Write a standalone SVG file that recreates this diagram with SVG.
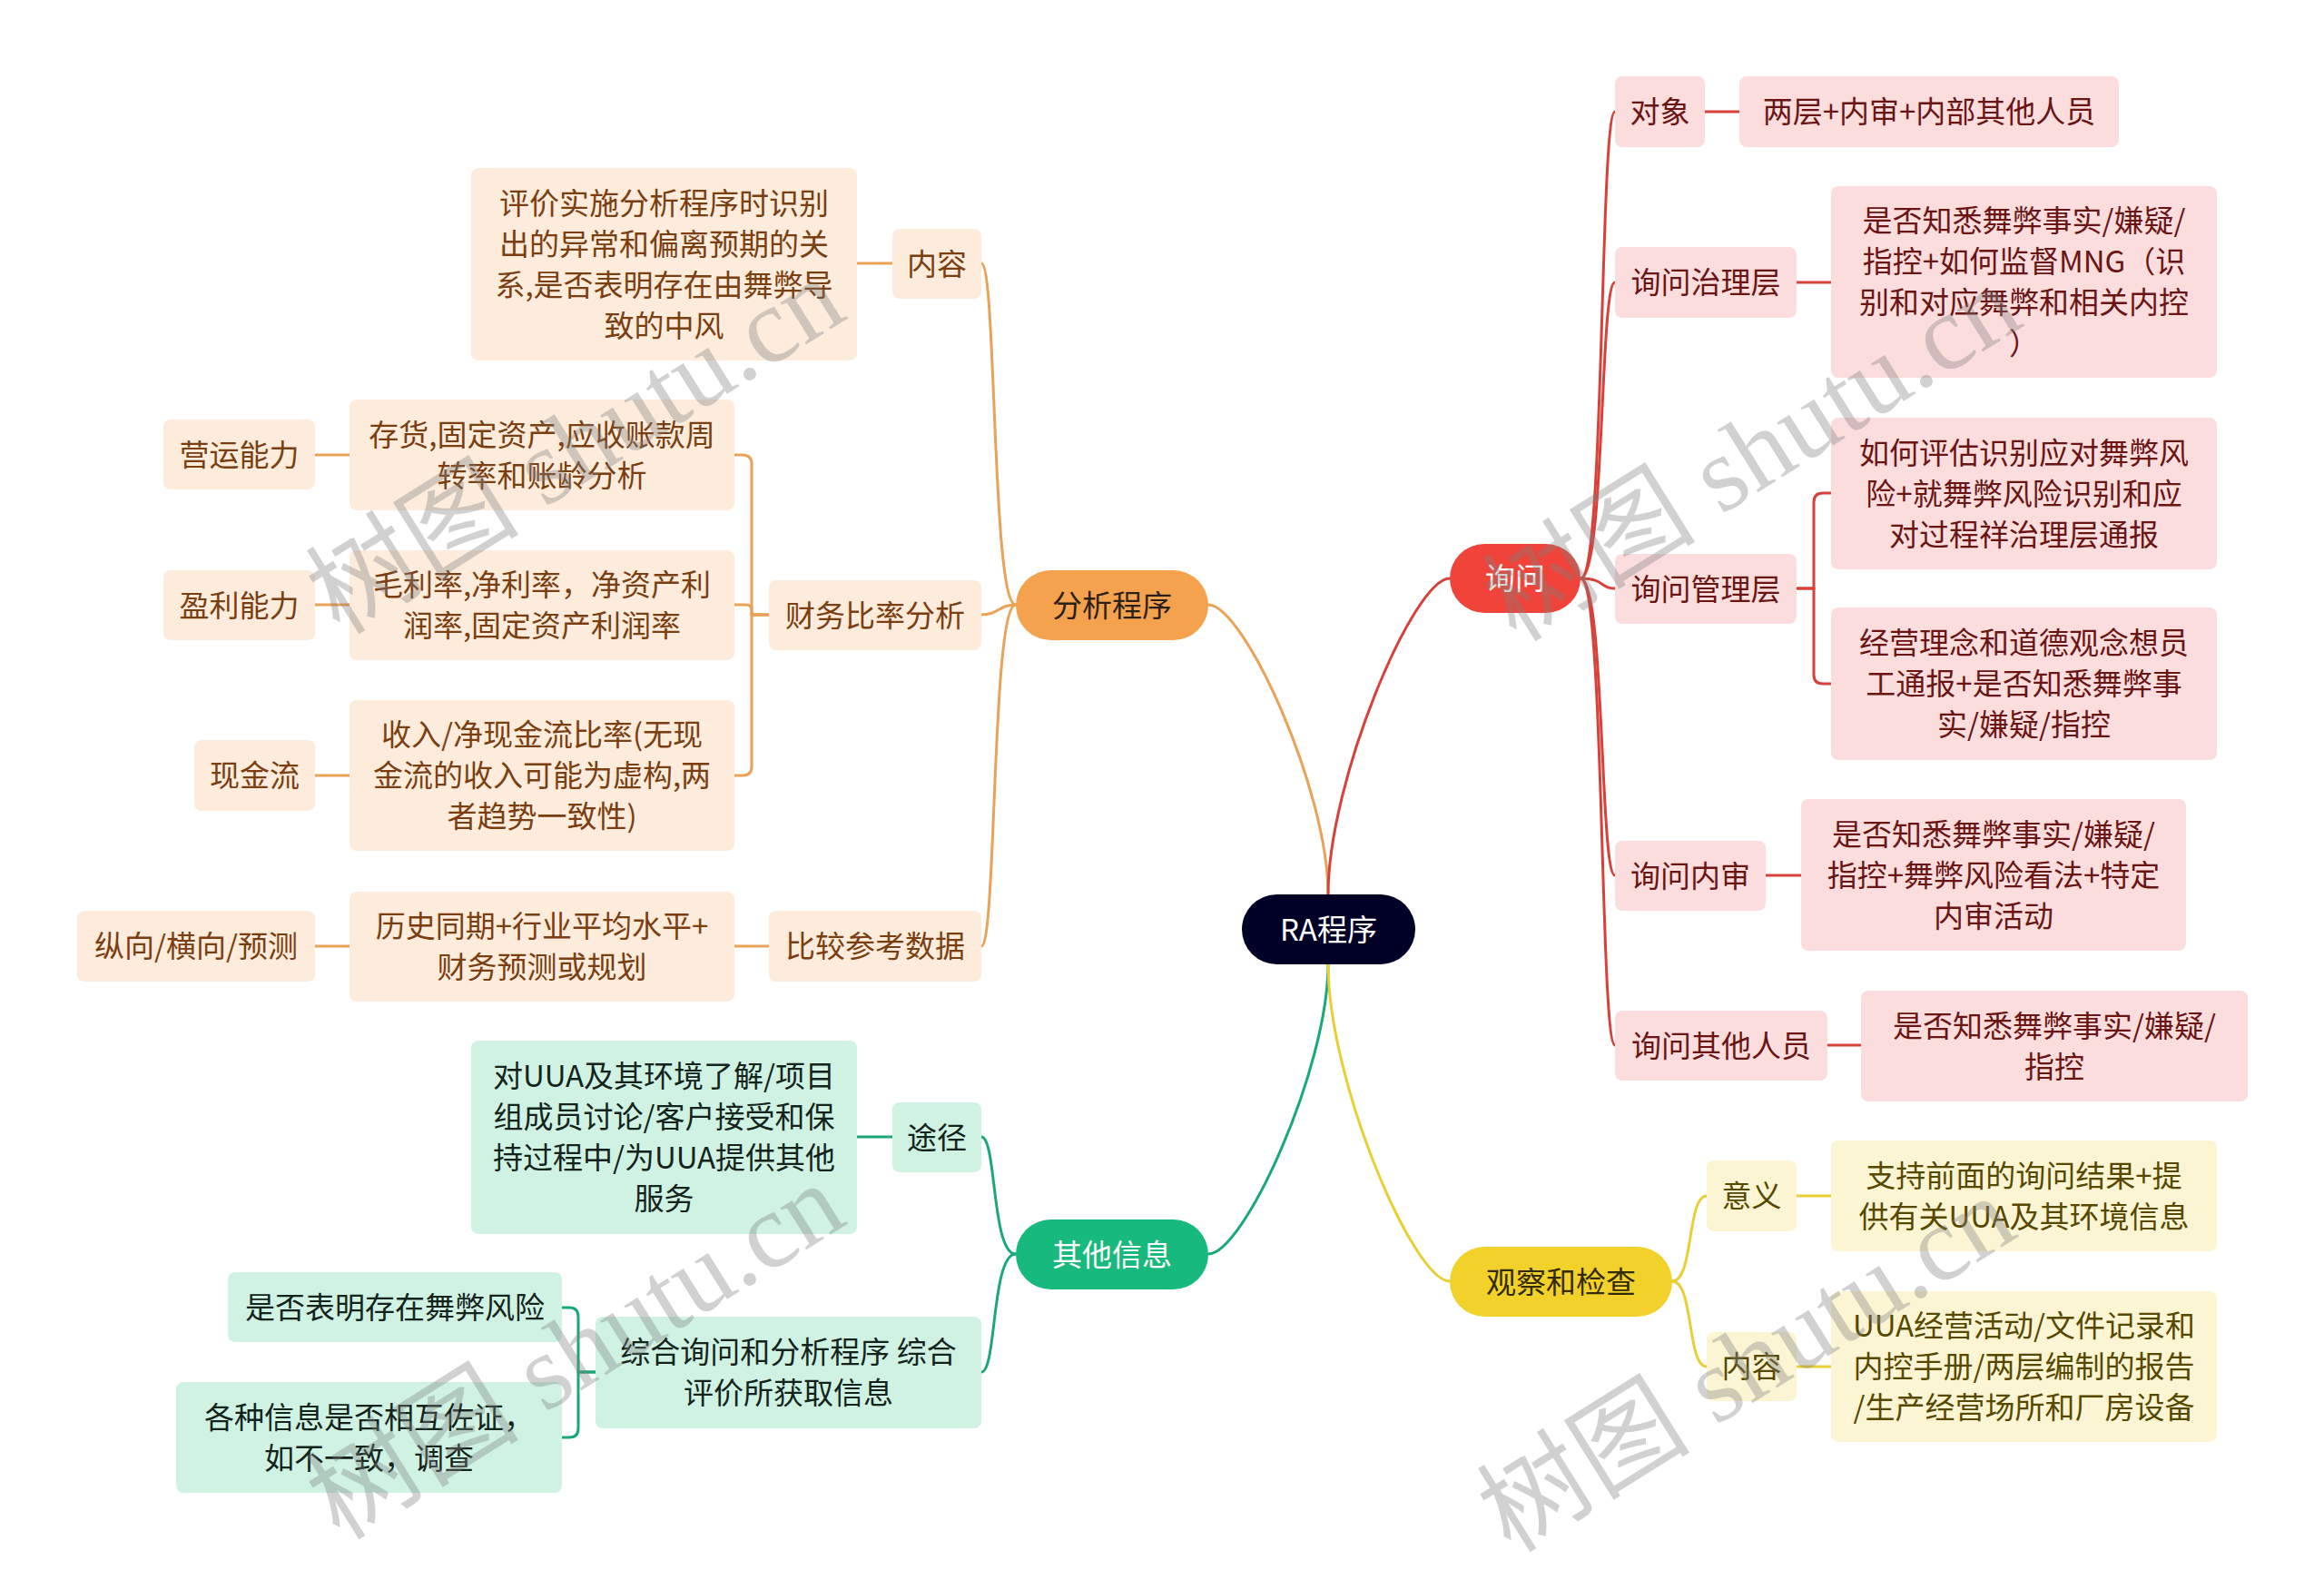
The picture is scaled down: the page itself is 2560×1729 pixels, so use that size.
<svg xmlns="http://www.w3.org/2000/svg" width="2560" height="1729" viewBox="0 0 2560 1729">
<style>
.t{font-family:"Noto Sans CJK SC","Noto Sans",sans-serif;font-size:33px;text-anchor:middle}
.c{fill:none;stroke-width:3;stroke-linecap:round}
.co{stroke:#E9A256}.cr{stroke:#D8413A}.cg{stroke:#1BA879}.cy{stroke:#E9CF35}
.root{fill:#000026}.roott{fill:#FFFFFF}
.om{fill:#F4A24E}.omt{fill:#2B2118}
.os{fill:#FDECDC}.ost{fill:#7A3E10}
.rm{fill:#F0443A}.rmt{fill:#FFFFFF}
.rs{fill:#FCDDDD}.rst{fill:#6A1414}
.gm{fill:#18B97C}.gmt{fill:#FFFFFF}
.gs{fill:#CFF2E3}.gst{fill:#14241C}
.ym{fill:#F2D22A}.ymt{fill:#332B00}
.ys{fill:#FCF5D3}.yst{fill:#574800}
.wm{font-family:"Liberation Serif","Noto Sans CJK SC",serif;font-size:118px;fill:#7f7f7f;fill-opacity:0.36;text-anchor:middle}
</style>
<rect width="2560" height="1729" fill="#FFFFFF"/>
<g id="connectors">
<path class="c co" d="M1463,985 C1463,870 1370,666 1331,666"/>
<path class="c cr" d="M1463,985 C1463,860 1557,637 1597,637"/>
<path class="c cg" d="M1463,1062 C1463,1177 1370,1381 1331,1381"/>
<path class="c cy" d="M1463,1062 C1463,1190 1557,1411 1597,1411"/>
<path class="c co" d="M1119,666 C1092,666 1098,290 1081,290"/>
<path class="c co" d="M1119,666 C1100,666 1100,677 1081,677"/>
<path class="c co" d="M1119,666 C1092,666 1098,1042 1081,1042"/>
<path class="c co" d="M944,290 H983"/>
<path class="c co" d="M847,677 H828 V511 Q828,501 818,501 H809"/>
<path class="c co" d="M847,677 H828 V672 Q828,666 822,666 H809"/>
<path class="c co" d="M847,677 H828 V844 Q828,854 818,854 H809"/>
<path class="c co" d="M347,501 H385"/>
<path class="c co" d="M347,666 H385"/>
<path class="c co" d="M347,854 H385"/>
<path class="c co" d="M809,1042 H847"/>
<path class="c co" d="M347,1042 H385"/>
<path class="c cg" d="M1119,1381 C1092,1381 1098,1252 1081,1252"/>
<path class="c cg" d="M1119,1381 C1092,1381 1098,1511 1081,1511"/>
<path class="c cg" d="M944,1252 H983"/>
<path class="c cg" d="M656,1511 H637 V1450 Q637,1440 627,1440 H619"/>
<path class="c cg" d="M656,1511 H637 V1573 Q637,1583 627,1583 H619"/>
<path class="c cr" d="M1741,637 C1768,637 1762,123 1779,123"/>
<path class="c cr" d="M1741,637 C1768,637 1762,311 1779,311"/>
<path class="c cr" d="M1741,637 C1768,637 1762,648 1779,648"/>
<path class="c cr" d="M1741,637 C1768,637 1762,964 1779,964"/>
<path class="c cr" d="M1741,637 C1768,637 1762,1151 1779,1151"/>
<path class="c cr" d="M1878,123 H1916"/>
<path class="c cr" d="M1979,311 H2017"/>
<path class="c cr" d="M1979,648 H1998 V553 Q1998,543 2008,543 H2017"/>
<path class="c cr" d="M1979,648 H1998 V743 Q1998,753 2008,753 H2017"/>
<path class="c cr" d="M1945,964 H1984"/>
<path class="c cr" d="M2013,1151 H2050"/>
<path class="c cy" d="M1842,1411 C1866,1411 1858,1317 1880,1317"/>
<path class="c cy" d="M1842,1411 C1866,1411 1858,1505 1880,1505"/>
<path class="c cy" d="M1979,1317 H2017"/>
<path class="c cy" d="M1979,1505 H2017"/>
</g>
<g id="root"><rect class="root" x="1368" y="985" width="191" height="77" rx="38.5"/><text class="t roott" x="1463.5" y="1035.5" font-size="34">RA程序</text></g>
<g id="fenxi"><rect class="om" x="1119" y="628" width="212" height="77" rx="38.5"/><text class="t omt" x="1225" y="678.5">分析程序</text></g>
<g id="xunwen"><rect class="rm" x="1597" y="599" width="144" height="76" rx="38"/><text class="t rmt" x="1669" y="649">询问</text></g>
<g id="qita"><rect class="gm" x="1119" y="1343" width="212" height="77" rx="38.5"/><text class="t gmt" x="1225" y="1393.5">其他信息</text></g>
<g id="guancha"><rect class="ym" x="1597" y="1373" width="245" height="77" rx="38.5"/><text class="t ymt" x="1719.5" y="1423.5">观察和检查</text></g>
<g id="fx-neirong"><rect class="os" x="983" y="252" width="98" height="77" rx="8"/><text class="t ost" x="1032" y="302.5">内容</text></g>
<g id="fx-pingjia"><rect class="os" x="519" y="185" width="425" height="212" rx="8"/><text class="t ost" x="731.5" y="235.5">评价实施分析程序时识别</text><text class="t ost" x="731.5" y="280.5">出的异常和偏离预期的关</text><text class="t ost" x="731.5" y="325.5">系,是否表明存在由舞弊导</text><text class="t ost" x="731.5" y="370.5">致的中风</text></g>
<g id="fx-caiwu"><rect class="os" x="847" y="639" width="234" height="77" rx="8"/><text class="t ost" x="964" y="689.5">财务比率分析</text></g>
<g id="fx-cunhuo"><rect class="os" x="385" y="440" width="424" height="122" rx="8"/><text class="t ost" x="597" y="490.5">存货,固定资产,应收账款周</text><text class="t ost" x="597" y="535.5">转率和账龄分析</text></g>
<g id="fx-yingyun"><rect class="os" x="180" y="462" width="167" height="77" rx="8"/><text class="t ost" x="263.5" y="512.5">营运能力</text></g>
<g id="fx-maoli"><rect class="os" x="385" y="606" width="424" height="121" rx="8"/><text class="t ost" x="597" y="656">毛利率,净利率，净资产利</text><text class="t ost" x="597" y="701">润率,固定资产利润率</text></g>
<g id="fx-yingli"><rect class="os" x="180" y="628" width="167" height="77" rx="8"/><text class="t ost" x="263.5" y="678.5">盈利能力</text></g>
<g id="fx-shouru"><rect class="os" x="385" y="771" width="424" height="166" rx="8"/><text class="t ost" x="597" y="821">收入/净现金流比率(无现</text><text class="t ost" x="597" y="866">金流的收入可能为虚构,两</text><text class="t ost" x="597" y="911">者趋势一致性)</text></g>
<g id="fx-xianjin"><rect class="os" x="214" y="815" width="133" height="78" rx="8"/><text class="t ost" x="280.5" y="866">现金流</text></g>
<g id="fx-bijiao"><rect class="os" x="847" y="1003" width="234" height="78" rx="8"/><text class="t ost" x="964" y="1054">比较参考数据</text></g>
<g id="fx-lishi"><rect class="os" x="385" y="982" width="424" height="121" rx="8"/><text class="t ost" x="597" y="1032">历史同期+行业平均水平+</text><text class="t ost" x="597" y="1077">财务预测或规划</text></g>
<g id="fx-zongxiang"><rect class="os" x="85" y="1003" width="262" height="78" rx="8"/><text class="t ost" x="216" y="1054">纵向/横向/预测</text></g>
<g id="qt-tujing"><rect class="gs" x="983" y="1214" width="98" height="77" rx="8"/><text class="t gst" x="1032" y="1264.5">途径</text></g>
<g id="qt-uua"><rect class="gs" x="519" y="1146" width="425" height="213" rx="8"/><text class="t gst" x="731.5" y="1197">对UUA及其环境了解/项目</text><text class="t gst" x="731.5" y="1242">组成员讨论/客户接受和保</text><text class="t gst" x="731.5" y="1287">持过程中/为UUA提供其他</text><text class="t gst" x="731.5" y="1332">服务</text></g>
<g id="qt-zonghe"><rect class="gs" x="656" y="1450" width="425" height="123" rx="8"/><text class="t gst" x="868.5" y="1501">综合询问和分析程序 综合</text><text class="t gst" x="868.5" y="1546">评价所获取信息</text></g>
<g id="qt-wubi"><rect class="gs" x="251" y="1401" width="368" height="77" rx="8"/><text class="t gst" x="435" y="1451.5">是否表明存在舞弊风险</text></g>
<g id="qt-gezhong"><rect class="gs" x="194" y="1522" width="425" height="122" rx="8"/><text class="t gst" x="406.5" y="1572.5">各种信息是否相互佐证，</text><text class="t gst" x="406.5" y="1617.5">如不一致，调查</text></g>
<g id="xw-duixiang"><rect class="rs" x="1779" y="84" width="99" height="78" rx="8"/><text class="t rst" x="1828.5" y="135">对象</text></g>
<g id="xw-liangceng"><rect class="rs" x="1916" y="84" width="418" height="78" rx="8"/><text class="t rst" x="2125" y="135">两层+内审+内部其他人员</text></g>
<g id="xw-zhili"><rect class="rs" x="1779" y="272" width="200" height="78" rx="8"/><text class="t rst" x="1879" y="323">询问治理层</text></g>
<g id="xw-zhili-c"><rect class="rs" x="2017" y="205" width="425" height="211" rx="8"/><text class="t rst" x="2229.5" y="255">是否知悉舞弊事实/嫌疑/</text><text class="t rst" x="2229.5" y="300">指控+如何监督MNG（识</text><text class="t rst" x="2229.5" y="345">别和对应舞弊和相关内控</text><text class="t rst" x="2229.5" y="390">）</text></g>
<g id="xw-guanli"><rect class="rs" x="1779" y="610" width="200" height="77" rx="8"/><text class="t rst" x="1879" y="660.5">询问管理层</text></g>
<g id="xw-guanli-c1"><rect class="rs" x="2017" y="460" width="425" height="167" rx="8"/><text class="t rst" x="2229.5" y="510.5">如何评估识别应对舞弊风</text><text class="t rst" x="2229.5" y="555.5">险+就舞弊风险识别和应</text><text class="t rst" x="2229.5" y="600.5">对过程祥治理层通报</text></g>
<g id="xw-guanli-c2"><rect class="rs" x="2017" y="669" width="425" height="168" rx="8"/><text class="t rst" x="2229.5" y="720">经营理念和道德观念想员</text><text class="t rst" x="2229.5" y="765">工通报+是否知悉舞弊事</text><text class="t rst" x="2229.5" y="810">实/嫌疑/指控</text></g>
<g id="xw-neishen"><rect class="rs" x="1779" y="926" width="166" height="77" rx="8"/><text class="t rst" x="1862" y="976.5">询问内审</text></g>
<g id="xw-neishen-c"><rect class="rs" x="1984" y="880" width="424" height="167" rx="8"/><text class="t rst" x="2196" y="930.5">是否知悉舞弊事实/嫌疑/</text><text class="t rst" x="2196" y="975.5">指控+舞弊风险看法+特定</text><text class="t rst" x="2196" y="1020.5">内审活动</text></g>
<g id="xw-qita"><rect class="rs" x="1779" y="1113" width="234" height="77" rx="8"/><text class="t rst" x="1896" y="1163.5">询问其他人员</text></g>
<g id="xw-qita-c"><rect class="rs" x="2050" y="1091" width="426" height="122" rx="8"/><text class="t rst" x="2263" y="1141.5">是否知悉舞弊事实/嫌疑/</text><text class="t rst" x="2263" y="1186.5">指控</text></g>
<g id="gc-yiyi"><rect class="ys" x="1880" y="1278" width="99" height="78" rx="8"/><text class="t yst" x="1929.5" y="1329">意义</text></g>
<g id="gc-zhichi"><rect class="ys" x="2017" y="1256" width="425" height="122" rx="8"/><text class="t yst" x="2229.5" y="1306.5">支持前面的询问结果+提</text><text class="t yst" x="2229.5" y="1351.5">供有关UUA及其环境信息</text></g>
<g id="gc-neirong"><rect class="ys" x="1880" y="1467" width="99" height="76" rx="8"/><text class="t yst" x="1929.5" y="1517">内容</text></g>
<g id="gc-uua"><rect class="ys" x="2017" y="1422" width="425" height="166" rx="8"/><text class="t yst" x="2229.5" y="1472">UUA经营活动/文件记录和</text><text class="t yst" x="2229.5" y="1517">内控手册/两层编制的报告</text><text class="t yst" x="2229.5" y="1562">/生产经营场所和厂房设备</text></g>
<g id="watermarks">
<text class="wm" transform="translate(655,525) rotate(-32)">树图 shutu.cn</text>
<text class="wm" transform="translate(1951,533) rotate(-32)">树图 shutu.cn</text>
<text class="wm" transform="translate(655,1522) rotate(-32)">树图 shutu.cn</text>
<text class="wm" transform="translate(1945,1536) rotate(-32)">树图 shutu.cn</text>
</g>
</svg>
